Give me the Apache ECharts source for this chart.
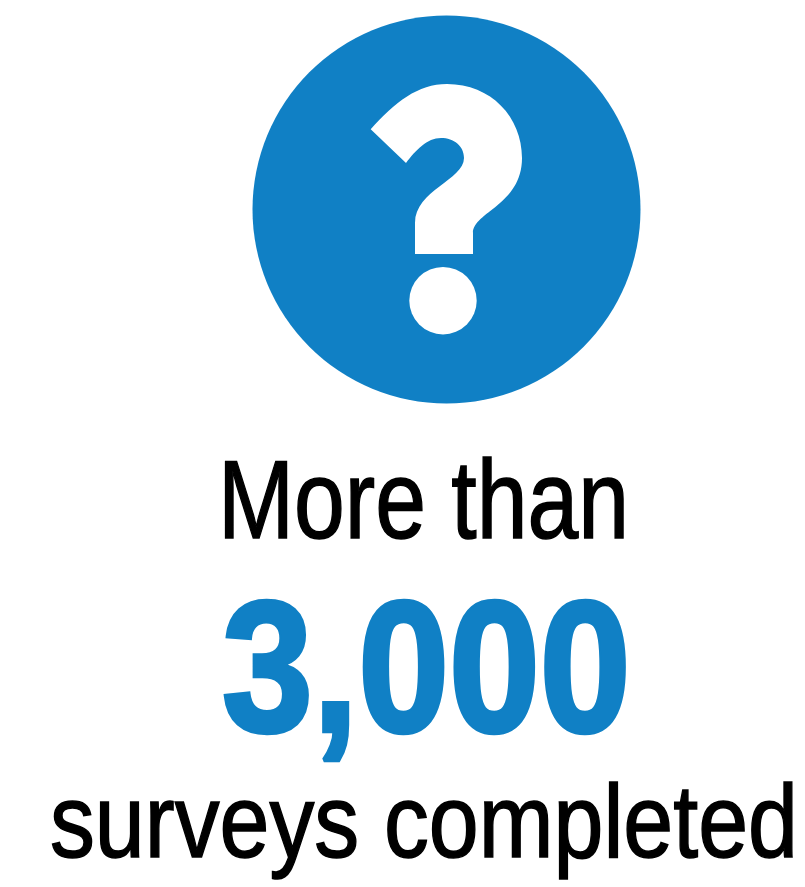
<!DOCTYPE html>
<html><head><meta charset="utf-8">
<style>html,body{margin:0;padding:0;background:#fff}#c{width:805px;height:887px}</style>
<script src="https://cdn.jsdelivr.net/npm/echarts@6/dist/echarts.min.js"></script>
</head><body><div id="c"></div>
<script>
const introText = 'More than';
const figureText = '3,000';
const outroText = 'surveys completed';
const BLUE = '#1080c5';
const QMARK = 'M370.7,129.3 C395,102 418,84 447,84 C491,84 522,117 522,158 C522,205 473,212 473,233 L473,254 L415,254 L415,223 C415,190 464,180 464,158 C464,146 454,138 441,138 C427,138 416,150 406,163 Z';
echarts.graphic.registerShape('qmark', echarts.graphic.extendPath(QMARK));
const chart = echarts.init(document.getElementById('c'), null, {renderer:'canvas'});
function txt(t, x, base, size, weight, fill, sx, sw){
  return {type:'text', x:x, y:base-0.78*size, scaleX:sx, originX:0, originY:0,
    style:{text:t, x:0, y:0, font: weight+' '+size+'px "Liberation Sans"', fill:fill, stroke:fill, lineWidth:sw, textAlign:'left'}};
}
chart.setOption({
  animation:false,
  backgroundColor:'#fff',
  graphic:{elements:[
    {type:'circle', shape:{cx:446.5, cy:209.5, r:194}, style:{fill:BLUE}},
    {type:'qmark', style:{fill:'#fff'}},
    {type:'circle', shape:{cx:443, cy:300.7, r:33.7}, style:{fill:'#fff'}},
    txt(introText, 218, 538, 112, 'normal', '#000', 0.815, 1.5),
    txt(figureText, 222, 732, 186, 'bold', BLUE, 0.878, 4.5),
    txt(outroText, 50, 857, 103, 'normal', '#000', 0.871, 1.5)
  ]}
});
</script></body></html>
